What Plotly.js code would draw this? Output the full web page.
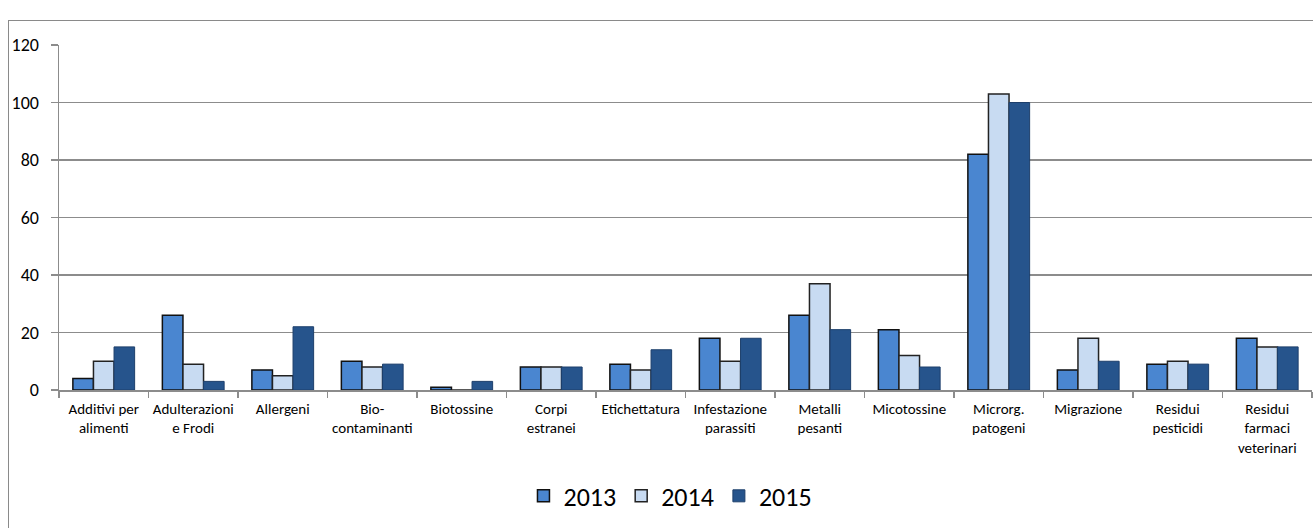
<!DOCTYPE html>
<html><head><meta charset="utf-8">
<script src="https://cdn.plot.ly/plotly-3.0.1.min.js"></script>
<style>
html,body{margin:0;padding:0;background:#fff;overflow:hidden;}
#frame{position:absolute;left:8px;top:20px;width:1330px;height:540px;border:1.5px solid #8a8a8a;box-sizing:border-box;pointer-events:none;z-index:5;}
#chart{position:absolute;left:0;top:0;width:1313px;height:528px;}
</style></head>
<body>
<div id="chart"></div>
<div id="frame"></div>
<script>
const categories = ["Additivi per<br>alimenti","Adulterazioni<br>e Frodi","Allergeni","Bio-<br>contaminanti","Biotossine","Corpi<br>estranei","Etichettatura","Infestazione<br>parassiti","Metalli<br>pesanti","Micotossine","Microrg.<br>patogeni","Migrazione","Residui<br>pesticidi","Residui<br>farmaci<br>veterinari"];
const values2013 = [4, 26, 7, 10, 1, 8, 9, 18, 26, 21, 82, 7, 9, 18];
const values2014 = [10, 9, 5, 8, 0, 8, 7, 10, 37, 12, 103, 18, 10, 15];
const values2015 = [15, 3, 22, 9, 3, 8, 14, 18, 21, 8, 100, 10, 9, 15];
const seriesNames = ["2013", "2014", "2015"];

const font = "Carlito, Lato, 'Liberation Sans Narrow', 'DejaVu Sans Condensed', sans-serif";
const traces = [
  {type:"bar", name:seriesNames[0], x:categories, y:values2013,
   marker:{color:"#4a86d0", line:{color:"#111", width:1.5}}},
  {type:"bar", name:seriesNames[1], x:categories, y:values2014,
   marker:{color:"#c8dbf2", line:{color:"#222", width:1.5}}},
  {type:"bar", name:seriesNames[2], x:categories, y:values2015,
   marker:{color:"#26548c", line:{color:"#1d3f6b", width:1}}}
];
const layout = {
  width:1313, height:528,
  margin:{l:59, r:1, t:45, b:138, autoexpand:false},
  paper_bgcolor:"#fff", plot_bgcolor:"#fff",
  barmode:"group", bargap:0.31, bargroupgap:0,
  font:{family:font, size:15, color:"#000"},
  showlegend:true,
  legend:{orientation:"h", x:0.488, xanchor:"center", y:-0.307, yanchor:"middle",
          font:{family:font, size:26, color:"#000"}, traceorder:"normal", itemwidth:30},
  xaxis:{type:"category", showline:true, linecolor:"#8c8c8c", linewidth:1.5,
         ticks:"outside", tickson:"boundaries", ticklen:6, tickcolor:"#8c8c8c", tickwidth:1.5,
         tickfont:{family:font, size:15, color:"#000"}, showgrid:false, fixedrange:true,
         tickangle:0, automargin:false, ticklabelstandoff:4},
  yaxis:{range:[0,120], dtick:20, showline:true, linecolor:"#8c8c8c", linewidth:1.5,
         ticks:"outside", ticklen:7, tickcolor:"#8c8c8c", tickwidth:1.5,
         showgrid:true, gridcolor:"#8c8c8c", gridwidth:1.5, zeroline:false,
         tickfont:{family:font, size:18, color:"#000"}, ticklabelstandoff:8, fixedrange:true, automargin:false}
};
Plotly.newPlot("chart", traces, layout, {displayModeBar:false, staticPlot:true});
</script>
</body></html>
